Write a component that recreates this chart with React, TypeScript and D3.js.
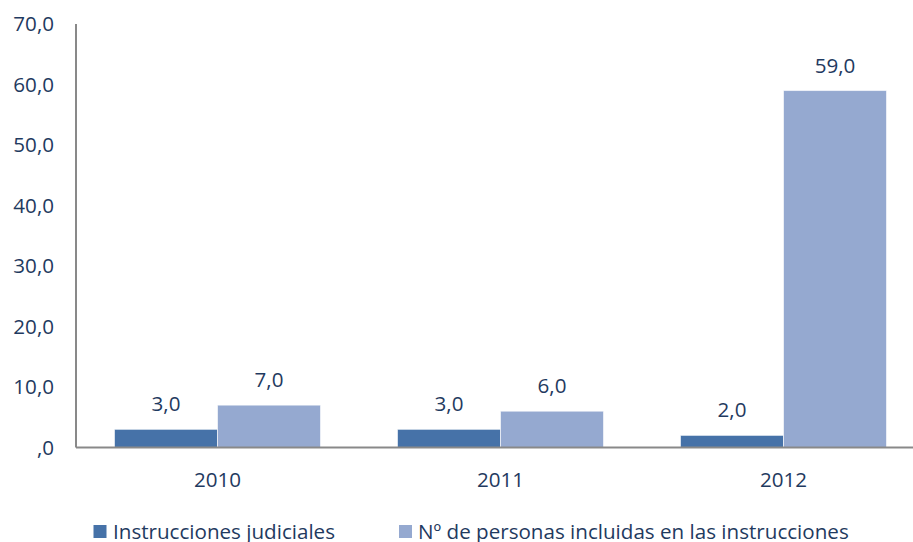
import React from "react";
import * as d3 from "d3";

const categories = ["2010", "2011", "2012"];
const seriesNames = ["Instrucciones judiciales", "Nº de personas incluidas en las instrucciones"];
const instrucciones = [3, 3, 2];
const personas = [7, 6, 59];
const yTicks = [0, 10, 20, 30, 40, 50, 60, 70];

const W = 913;
const H = 542;
const colors = ["#4672A8", "#95A9D0"];
const textColor = "#1F3A60";
const font = "'Open Sans', sans-serif";
const fs = 20.6;

const fmt = (v: number) => (v === 0 ? ",0" : v.toFixed(1).replace(".", ","));

export default function App() {
  const x0 = 76;
  const x1 = 925;
  const yBottom = 447.5;
  const yTop = 24;
  const x = d3.scaleBand<string>().domain(categories).range([x0, x1]).paddingInner(0.272).paddingOuter(0.136);
  const sub = d3.scaleBand<number>().domain([0, 1]).range([0, x.bandwidth()]).padding(0);
  const y = d3.scaleLinear().domain([0, 70]).range([yBottom, yTop]);
  const series = [instrucciones, personas];

  return (
    <svg width={W} height={H} style={{ position: "absolute", left: 0, top: 0, background: "#fff" }}>
      {series.map((vals, si) =>
        categories.map((c, ci) => {
          const bx = (x(c) as number) + (sub(si) as number);
          const by = y(vals[ci]);
          return (
            <rect
              key={`b${si}-${ci}`}
              x={bx}
              y={by}
              width={sub.bandwidth()}
              height={yBottom - by}
              fill={colors[si]}
              stroke="#ffffff"
              strokeOpacity={0.6}
              strokeWidth={1}
            />
          );
        })
      )}
      {series.map((vals, si) =>
        categories.map((c, ci) => {
          const cx = (x(c) as number) + (sub(si) as number) + sub.bandwidth() / 2;
          return (
            <text
              key={`l${si}-${ci}`}
              x={cx}
              y={y(vals[ci]) - 18}
              textAnchor="middle"
              fontFamily={font}
              fontSize={fs}
              fill={textColor}
            >
              {fmt(vals[ci])}
            </text>
          );
        })
      )}
      <line x1={x0} x2={W} y1={yBottom} y2={yBottom} stroke="#898989" strokeWidth={2} />
      <line x1={x0} x2={x0} y1={yTop} y2={yBottom} stroke="#898989" strokeWidth={2} />
      {yTicks.map((t) => (
        <text
          key={`yt${t}`}
          x={54}
          y={y(t)}
          dy="0.35em"
          textAnchor="end"
          fontFamily={font}
          fontSize={fs}
          fill={textColor}
        >
          {fmt(t)}
        </text>
      ))}
      {categories.map((c) => (
        <text
          key={`xt${c}`}
          x={(x(c) as number) + x.bandwidth() / 2}
          y={487}
          textAnchor="middle"
          fontFamily={font}
          fontSize={fs}
          fill={textColor}
        >
          {c}
        </text>
      ))}
      <rect x={93.5} y={525} width={13} height={13} fill={colors[0]} />
      <text x={113} y={539} fontFamily={font} fontSize={fs} fill={textColor}>
        {seriesNames[0]}
      </text>
      <rect x={399} y={525} width={13} height={13} fill={colors[1]} />
      <text x={418} y={539} fontFamily={font} fontSize={fs} fill={textColor}>
        {seriesNames[1]}
      </text>
    </svg>
  );
}
